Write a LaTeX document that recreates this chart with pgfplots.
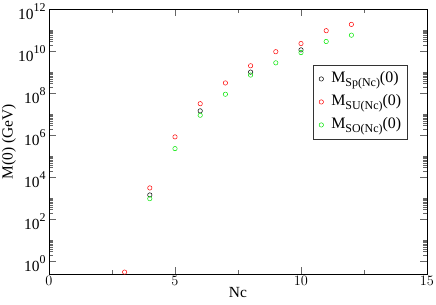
\documentclass[border=0pt]{standalone}
\usepackage{fontspec}
\setmainfont{Liberation Serif}
\usepackage{pgfplots}
\pgfplotsset{compat=1.18}
\definecolor{ggreen}{RGB}{0,230,0}
\newcommand{\tp}[1]{10\raisebox{7.5bp}{\fontsize{12}{12}\selectfont #1}}
\newcommand{\legm}[1]{M\raisebox{-3.8bp}{\fontsize{12}{12}\selectfont #1}(0)}
\begin{document}
\begin{tikzpicture}
\begin{axis}[
  at={(0bp,0bp)}, anchor=south west,
  scale only axis, width=378bp, height=264.5bp,
  xmin=0, xmax=15, ymode=log, ymin=0.26, ymax=1e12,
  xtick={0,5,10,15}, minor xtick={2.5,7.5,12.5},
  ytick={1,1e2,1e4,1e6,1e8,1e10,1e12},
  yticklabels={\tp{0},\tp{2},\tp{4},\tp{6},\tp{8},\tp{10},\tp{12}},
  minor ytick={2,3,4,5,6,7,8,9,10,
    200,300,400,500,600,700,800,900,1000,
    2e4,3e4,4e4,5e4,6e4,7e4,8e4,9e4,1e5,
    2e6,3e6,4e6,5e6,6e6,7e6,8e6,9e6,1e7,
    2e8,3e8,4e8,5e8,6e8,7e8,8e8,9e8,1e9,
    2e10,3e10,4e10,5e10,6e10,7e10,8e10,9e10,1e11},
  tick align=inside,
  major tick length=7bp, minor tick length=4bp,
  axis line style={line width=0.9bp},
  every tick/.style={line width=0.6bp, black!60},
  font=\fontsize{15.5}{18}\selectfont,
  ticklabel style={font=\fontsize{15.5}{18}\selectfont},
  xticklabel style={yshift=1.5bp},
  yticklabel style={yshift=-2bp},
  xlabel={Nc}, ylabel={M(0) (GeV)},
  xlabel style={at={(axis description cs:0.5,-0.07)}, anchor=center},
  ylabel style={at={(axis description cs:-0.106,0.5)}, anchor=center},
  legend style={at={(axis description cs:0.698,0.792)}, anchor=north west,
    draw=black!80, line width=0.9bp, font=\fontsize{16}{18}\selectfont,
    inner xsep=3bp, inner ysep=2.5bp, row sep=0bp,
    nodes={inner sep=3bp, text depth=5bp, text height=12bp}},
  legend image code/.code={\draw[#1] plot coordinates {(5bp,0bp)}; \path[draw=none,fill=none] (0bp,-2bp) (12bp,2bp);},
  legend cell align=left,
  /tikz/every even column/.append style={column sep=1bp},
  clip=false,
]
\addplot[only marks, mark=o, mark size=2.2bp, black, mark options={line width=0.5bp}] coordinates {
  (4,1500) (6,1.5e7) (8,1.05e9) (10,1.2e10)};
\addlegendentry{\legm{Sp(Nc)}}
\addplot[only marks, mark=o, mark size=2.2bp, red, mark options={line width=0.5bp}] coordinates {
  (3,0.32) (4,3240) (5,8.7e5) (6,3.3e7) (7,3.2e8) (8,2.1e9) (9,9.8e9) (10,2.4e10) (11,9.8e10) (12,1.95e11)};
\addlegendentry{\legm{SU(Nc)}}
\addplot[only marks, mark=o, mark size=2.2bp, ggreen, mark options={line width=0.5bp}] coordinates {
  (4,1000) (5,2.4e5) (6,9.3e6) (7,9.3e7) (8,7.6e8) (9,2.9e9) (10,8.9e9) (11,3.0e10) (12,6.0e10)};
\addlegendentry{\legm{SO(Nc)}}
\end{axis}
\pgfresetboundingbox
\path[use as bounding box] (-49bp,-31bp) rectangle (387bp,274bp);
\end{tikzpicture}
\end{document}
